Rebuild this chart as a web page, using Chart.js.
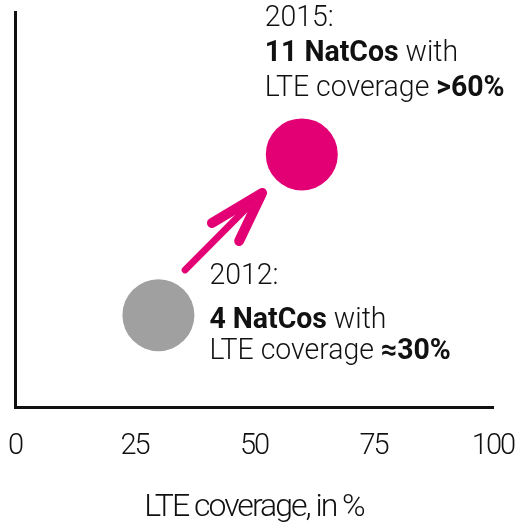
<!DOCTYPE html>
<html><head><meta charset="utf-8">
<script src="https://cdn.jsdelivr.net/npm/chart.js@4.4.1/dist/chart.umd.min.js"></script>
<style>html,body{margin:0;padding:0;background:#fff;}</style>
</head><body>
<canvas id="c" width="520" height="527"></canvas>
<script>
// ---- data ----
const years = ['2012', '2015'];
const coverage = [30, 60];          // LTE coverage, %
const natcos = [4, 11];             // number of NatCos
const bubbleColors = ['#a0a0a0', '#e20074'];
const xTickValues = [0, 25, 50, 75, 100];
const xTitle = 'LTE coverage, in %';
const arrowShaftX = [35.6, 48.5];
const arrowShaftY = [5.97, 8.67];
const arrowHeadX = [41.2, 51.7, 46.9];
const arrowHeadY = [8.01, 9.32, 7.23];
const note2015 = [
  [{t: '2015:', b: false}],
  [{t: '11 NatCos', b: true}, {t: ' with', b: false}],
  [{t: 'LTE coverage ', b: false}, {t: '>60%', b: true}]
];
const note2012 = [
  [{t: '2012:', b: false}],
  [{t: '4 NatCos', b: true}, {t: ' with', b: false}],
  [{t: 'LTE coverage ', b: false}, {t: '\u224830%', b: true}]
];

const FONT = "Roboto, 'Liberation Sans', sans-serif";
const MAGENTA = '#e20074';
const INK = '#111';
Chart.defaults.font.family = FONT;

function drawRuns(ctx, x, y, runs, size, sx) {
  ctx.save();
  ctx.translate(x, y);
  ctx.scale(sx, 1);
  let cx = 0;
  runs.forEach(r => {
    ctx.font = (r.b ? '700 ' : '300 ') + size + 'px ' + FONT;
    ctx.fillText(r.t, cx, 0);
    cx += ctx.measureText(r.t).width;
  });
  ctx.restore();
}

const notesPlugin = {
  id: 'notes',
  beforeDraw(chart) {
    chart.ctx.letterSpacing = '-2px';
  },
  beforeDatasetsDraw(chart) {
    chart.ctx.letterSpacing = '0px';
  },
  afterDatasetsDraw(chart) {
    const {ctx, scales: {x, y}} = chart;
    ctx.save();
    ctx.letterSpacing = '0px';
    ctx.fillStyle = INK;
    ctx.textBaseline = 'middle';
    ctx.textAlign = 'left';
    const px15 = x.getPixelForValue(coverage[1]);
    const py15 = y.getPixelForValue(natcos[1]);
    const off15 = [-136, -101, -66];
    note2015.forEach((line, i) => drawRuns(ctx, px15 - 37, py15 + off15[i], line, 29, 0.98));
    const px12 = x.getPixelForValue(coverage[0]);
    const py12 = y.getPixelForValue(natcos[0]);
    const off12 = [-38, 6, 37];
    note2012.forEach((line, i) => drawRuns(ctx, px12 + 51, py12 + off12[i], line, 29, 0.98));
    ctx.restore();
  }
};

const lineStyle = {
  type: 'line', showLine: true, pointRadius: 0, pointHoverRadius: 0,
  borderColor: MAGENTA, borderCapStyle: 'round', borderJoinStyle: 'round',
  fill: false, tension: 0
};

new Chart(document.getElementById('c'), {
  type: 'bubble',
  data: {
    datasets: [
      {
        label: 'NatCos',
        data: years.map((yr, i) => ({x: coverage[i], y: natcos[i], r: 36})),
        backgroundColor: bubbleColors,
        borderWidth: 0,
        hoverRadius: 0
      },
      Object.assign({}, lineStyle, {
        data: arrowShaftX.map((v, i) => ({x: v, y: arrowShaftY[i]})),
        borderWidth: 7
      }),
      Object.assign({}, lineStyle, {
        data: arrowHeadX.map((v, i) => ({x: v, y: arrowHeadY[i]})),
        borderWidth: 10
      })
    ]
  },
  options: {
    responsive: false,
    animation: false,
    events: [],
    layout: {autoPadding: false, padding: {left: 15, right: 27, top: 12, bottom: 0}},
    plugins: {legend: {display: false}, tooltip: {enabled: false}},
    scales: {
      x: {
        type: 'linear', min: 0, max: 100,
        afterBuildTicks: s => { s.ticks = xTickValues.map(v => ({value: v})); },
        grid: {display: false, drawTicks: false},
        border: {display: true, color: INK, width: 3},
        ticks: {color: INK, padding: 0, font: {size: 29, weight: 300, lineHeight: 80 / 29}, autoSkip: false, maxRotation: 0},
        title: {display: true, text: xTitle, color: INK, font: {size: 32, weight: 300, lineHeight: 1.2}, padding: {top: 1.6, bottom: 0}}
      },
      y: {
        type: 'linear', min: 0, max: 17.2,
        grid: {display: false, drawTicks: false},
        border: {display: true, color: INK, width: 3},
        ticks: {display: false}
      }
    }
  },
  plugins: [notesPlugin]
});
</script>
</body></html>
